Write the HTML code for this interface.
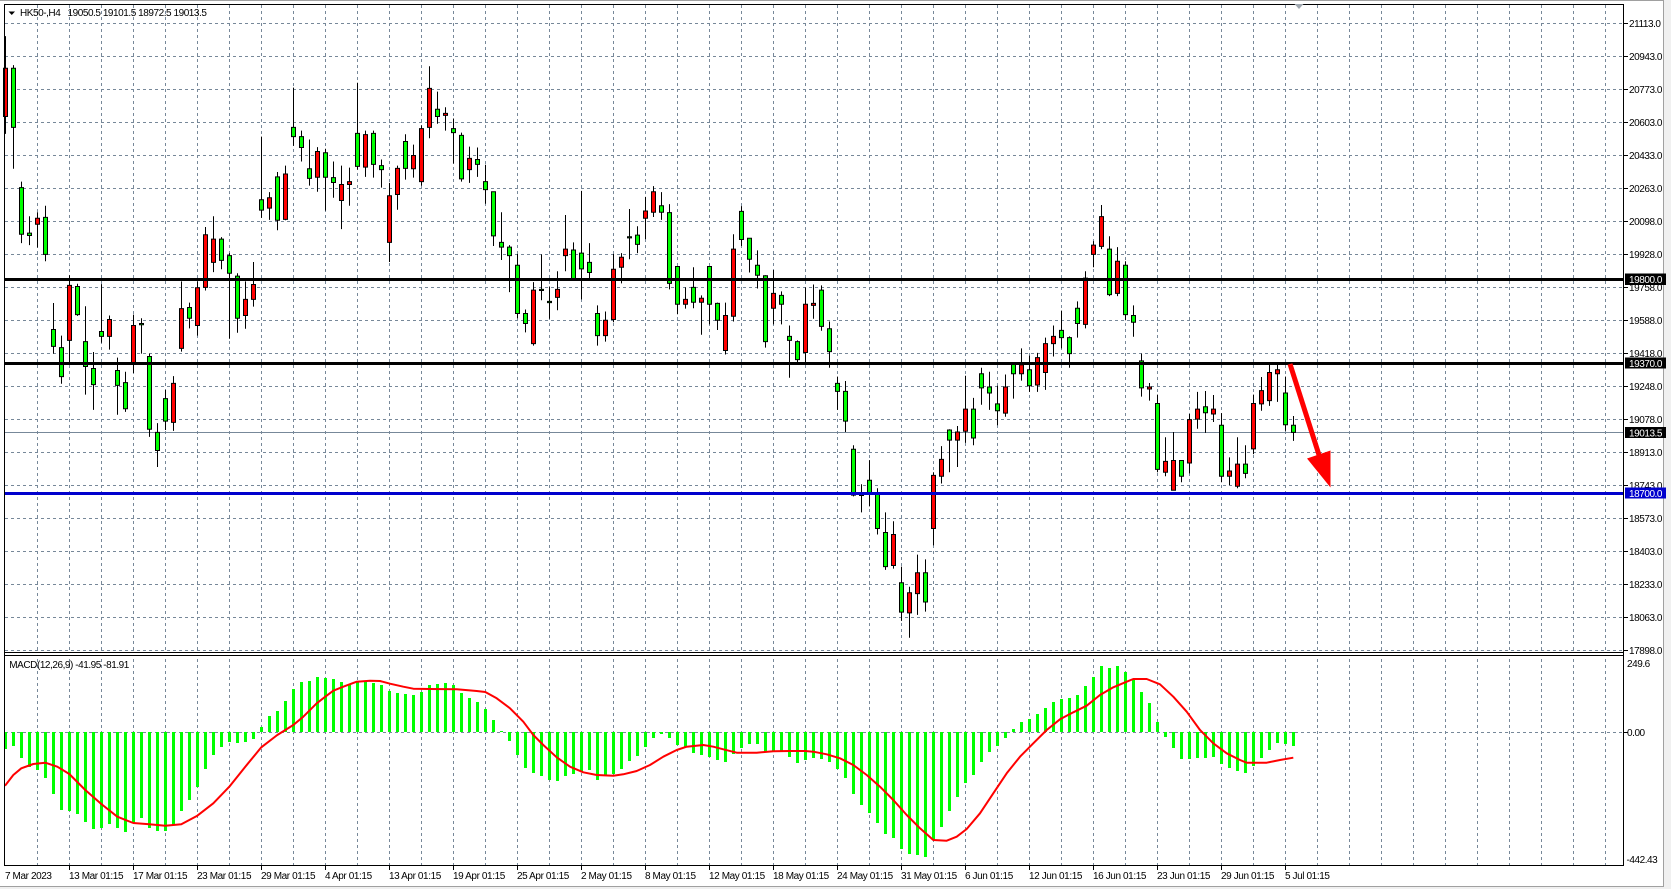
<!DOCTYPE html>
<html><head><meta charset="utf-8"><style>
html,body{margin:0;padding:0;background:#f0f0f0;}
svg{display:block;}
text{font-family:"Liberation Sans",sans-serif;font-size:10px;fill:#000;}
.pl{letter-spacing:-0.45px;}
.dl{letter-spacing:-0.4px;}
text.wt{fill:#fff;}
</style></head><body>
<svg width="1671" height="889" viewBox="0 0 1671 889" xmlns="http://www.w3.org/2000/svg">
<rect x="0" y="0" width="1663" height="886" fill="#fff"/>
<path d="M0 0.5H1663.5V886.5H0" fill="none" stroke="#a0a0a0" stroke-width="1"/>

<!-- grid -->
<g stroke="#778899" stroke-width="1" stroke-dasharray="3 3" fill="none" shape-rendering="crispEdges">
<path d="M37.5 5V865M69.5 5V865M101.5 5V865M133.5 5V865M165.5 5V865M197.5 5V865M229.5 5V865M261.5 5V865M293.5 5V865M325.5 5V865M357.5 5V865M389.5 5V865M421.5 5V865M453.5 5V865M485.5 5V865M517.5 5V865M549.5 5V865M581.5 5V865M613.5 5V865M645.5 5V865M677.5 5V865M709.5 5V865M741.5 5V865M773.5 5V865M805.5 5V865M837.5 5V865M869.5 5V865M901.5 5V865M933.5 5V865M965.5 5V865M997.5 5V865M1029.5 5V865M1061.5 5V865M1093.5 5V865M1125.5 5V865M1157.5 5V865M1189.5 5V865M1221.5 5V865M1253.5 5V865M1285.5 5V865M1317.5 5V865M1349.5 5V865M1381.5 5V865M1413.5 5V865M1445.5 5V865M1477.5 5V865M1509.5 5V865M1541.5 5V865M1573.5 5V865M1605.5 5V865"/>
<path d="M5 23.5H1623M5 56.5H1623M5 89.5H1623M5 122.5H1623M5 155.5H1623M5 188.5H1623M5 221.5H1623M5 254.5H1623M5 287.5H1623M5 320.5H1623M5 353.5H1623M5 386.5H1623M5 419.5H1623M5 452.5H1623M5 485.5H1623M5 518.5H1623M5 551.5H1623M5 584.5H1623M5 617.5H1623M5 650.5H1623M5 732.5H1623"/>
</g>
<rect x="5" y="653" width="1618" height="2" fill="#fff"/>

<path d="M5 432.5H1623" stroke="#778899" stroke-width="1" shape-rendering="crispEdges"/>

<g transform="translate(0,20.08) scale(1,0.4019)">
<path vector-effect="non-scaling-stroke" stroke="#000" stroke-width="1" fill="none" d="M5.5 40V283M13.5 112V370M21.5 402V555M29.5 488V560M37.5 478V566M45.5 462V600M53.5 704V830M61.5 785V905M69.5 635V855M77.5 656V736M85.5 712V932M93.5 826V970M101.5 657V803M109.5 735V820M117.5 840V982M125.5 875V975M133.5 733V878M141.5 742V830M149.5 830V1037M157.5 1003V1112M165.5 920V1020M173.5 886V1022M181.5 650V825M189.5 703V767M197.5 650V785M205.5 515V673M213.5 488V627M221.5 540V620M229.5 580V793M237.5 630V778M245.5 650V768M253.5 602V713M261.5 290V492M269.5 428V497M277.5 378V523M285.5 362V498M293.5 168V313M301.5 275V352M309.5 297V412M317.5 316V427M325.5 320V474M333.5 352V442M341.5 362V520M349.5 367V462M357.5 156V372M365.5 275V390M373.5 275V392M381.5 347V417M389.5 405V602M397.5 362V472M405.5 284V397M413.5 310V392M421.5 262V412M429.5 115V294M437.5 178V258M445.5 217V275M453.5 245V357M461.5 280V402M469.5 315V405M477.5 317V390M485.5 360V457M493.5 427V562M501.5 478V597M509.5 560V677M517.5 582V742M525.5 720V777M533.5 652V810M541.5 583V697M549.5 663V743M557.5 625V722M565.5 485V625M573.5 553V643M581.5 425V695M589.5 555V643M597.5 710V810M605.5 725V800M613.5 582V752M621.5 580V655M629.5 470V595M637.5 513V580M645.5 440V545M653.5 413V490M661.5 428V497M669.5 458V670M677.5 613V732M685.5 665V718M693.5 615V717M701.5 685V783M709.5 613V757M717.5 703V771M725.5 703V832M733.5 533V750M741.5 463V562M749.5 543V628M757.5 573V668M765.5 635V815M773.5 622V757M781.5 675V757M789.5 760V890M797.5 797V852M805.5 665V852M813.5 658V743M821.5 660V773M829.5 750V865M837.5 887V970M845.5 898V1025M853.5 1058V1185M861.5 1155V1225M869.5 1095V1210M877.5 1165V1280M885.5 1225V1368M893.5 1247V1365M901.5 1360V1495M909.5 1410V1537M917.5 1330V1480M925.5 1342V1472M933.5 1125V1307M941.5 1060V1153M949.5 1018V1125M957.5 1010V1112M965.5 885V1052M973.5 940V1058M981.5 865V957M989.5 875V970M997.5 910V1008M1005.5 882V987M1013.5 855V942M1021.5 817V897M1029.5 835V925M1037.5 828V925M1045.5 790V920M1053.5 760V837M1061.5 723V817M1069.5 787V865M1077.5 700V790M1085.5 625V767M1093.5 550V615M1101.5 460V570M1109.5 538V687M1117.5 565V687M1125.5 600V747M1133.5 710V788M1141.5 830V937M1149.5 903V947M1157.5 932V1125M1165.5 1038V1135M1173.5 1025V1170M1181.5 1096V1150M1189.5 980V1128M1197.5 925V1017M1205.5 923V1027M1213.5 933V1000M1221.5 978V1150M1229.5 1088V1157M1237.5 1038V1165M1245.5 1058V1140M1253.5 932V1080M1261.5 888V972M1269.5 858V960M1277.5 857V950M1285.5 887V1022M1293.5 985V1047"/>
<path vector-effect="non-scaling-stroke" stroke="#000" stroke-width="1" fill="#ff0000" d="M3.5 120h4V240h-4zM35.5 493h4V508h-4zM67.5 660h4V797h-4zM107.5 745h4V787h-4zM131.5 760h4V855h-4zM171.5 904h4V1001h-4zM179.5 718h4V817h-4zM195.5 666h4V760h-4zM203.5 534h4V665h-4zM211.5 545h4V603h-4zM243.5 695h4V735h-4zM251.5 658h4V695h-4zM267.5 442h4V468h-4zM283.5 383h4V496h-4zM315.5 327h4V391h-4zM339.5 409h4V449h-4zM347.5 402h4V409h-4zM363.5 285h4V366h-4zM387.5 437h4V553h-4zM395.5 369h4V434h-4zM411.5 337h4V370h-4zM419.5 270h4V402h-4zM427.5 170h4V267h-4zM443.5 232h4V237h-4zM467.5 344h4V372h-4zM531.5 672h4V805h-4zM555.5 670h4V690h-4zM563.5 570h4V586h-4zM603.5 747h4V785h-4zM611.5 620h4V745h-4zM619.5 590h4V615h-4zM643.5 475h4V493h-4zM651.5 427h4V478h-4zM683.5 695h4V707h-4zM699.5 692h4V702h-4zM723.5 735h4V822h-4zM731.5 570h4V737h-4zM771.5 680h4V717h-4zM803.5 707h4V827h-4zM811.5 705h4V710h-4zM891.5 1280h4V1357h-4zM907.5 1425h4V1475h-4zM915.5 1375h4V1427h-4zM931.5 1133h4V1265h-4zM939.5 1093h4V1135h-4zM955.5 1025h4V1045h-4zM963.5 968h4V1023h-4zM1003.5 913h4V978h-4zM1019.5 858h4V880h-4zM1035.5 840h4V908h-4zM1043.5 805h4V877h-4zM1051.5 787h4V805h-4zM1083.5 642h4V757h-4zM1091.5 560h4V583h-4zM1099.5 489h4V563h-4zM1115.5 600h4V680h-4zM1147.5 913h4V918h-4zM1163.5 1098h4V1125h-4zM1171.5 1096h4V1170h-4zM1187.5 994h4V1102h-4zM1195.5 968h4V993h-4zM1211.5 968h4V980h-4zM1227.5 1122h4V1135h-4zM1235.5 1105h4V1160h-4zM1251.5 954h4V1067h-4zM1259.5 922h4V955h-4zM1267.5 877h4V947h-4zM1275.5 870h4V880h-4z"/>
<path vector-effect="non-scaling-stroke" stroke="#000" stroke-width="1" fill="#00ff00" d="M11.5 120h4V267h-4zM19.5 417h4V533h-4zM27.5 530h4V536h-4zM43.5 491h4V583h-4zM51.5 770h4V812h-4zM59.5 815h4V887h-4zM75.5 663h4V733h-4zM83.5 800h4V862h-4zM91.5 867h4V907h-4zM99.5 775h4V787h-4zM115.5 872h4V909h-4zM123.5 902h4V967h-4zM147.5 837h4V1018h-4zM155.5 1026h4V1071h-4zM163.5 942h4V998h-4zM187.5 715h4V742h-4zM219.5 545h4V598h-4zM227.5 586h4V630h-4zM235.5 637h4V742h-4zM259.5 447h4V473h-4zM275.5 390h4V498h-4zM291.5 267h4V290h-4zM299.5 290h4V317h-4zM307.5 370h4V394h-4zM323.5 330h4V391h-4zM331.5 392h4V404h-4zM355.5 282h4V364h-4zM371.5 282h4V359h-4zM379.5 362h4V372h-4zM403.5 302h4V369h-4zM435.5 222h4V240h-4zM451.5 270h4V280h-4zM459.5 287h4V395h-4zM475.5 347h4V359h-4zM483.5 402h4V422h-4zM491.5 427h4V537h-4zM499.5 553h4V565h-4zM507.5 565h4V586h-4zM515.5 610h4V730h-4zM523.5 730h4V755h-4zM571.5 572h4V643h-4zM579.5 580h4V619h-4zM587.5 603h4V628h-4zM595.5 730h4V785h-4zM635.5 535h4V558h-4zM659.5 462h4V478h-4zM667.5 479h4V655h-4zM675.5 613h4V707h-4zM691.5 665h4V702h-4zM707.5 613h4V707h-4zM715.5 705h4V747h-4zM739.5 476h4V546h-4zM747.5 543h4V595h-4zM755.5 610h4V635h-4zM763.5 636h4V800h-4zM779.5 685h4V707h-4zM787.5 787h4V797h-4zM795.5 800h4V845h-4zM819.5 672h4V762h-4zM827.5 768h4V825h-4zM835.5 904h4V924h-4zM843.5 924h4V998h-4zM851.5 1068h4V1182h-4zM867.5 1145h4V1178h-4zM875.5 1178h4V1265h-4zM883.5 1275h4V1360h-4zM899.5 1400h4V1473h-4zM923.5 1375h4V1448h-4zM947.5 1020h4V1045h-4zM971.5 968h4V1040h-4zM979.5 880h4V915h-4zM987.5 913h4V928h-4zM995.5 955h4V972h-4zM1011.5 855h4V880h-4zM1027.5 870h4V910h-4zM1059.5 772h4V790h-4zM1067.5 790h4V830h-4zM1075.5 717h4V755h-4zM1107.5 570h4V683h-4zM1123.5 610h4V733h-4zM1131.5 735h4V752h-4zM1139.5 848h4V915h-4zM1155.5 954h4V1118h-4zM1179.5 1096h4V1135h-4zM1203.5 962h4V977h-4zM1219.5 1008h4V1135h-4zM1243.5 1105h4V1128h-4zM1283.5 928h4V1007h-4zM1291.5 1008h4V1026h-4zM139.5 755h4V758h-4zM539.5 670h4V673h-4zM547.5 700h4V703h-4zM627.5 539h4V542h-4zM859.5 1180h4V1183h-4z"/>
</g>

<path d="M5 279.5H1623M5 363.5H1623" stroke="#000" stroke-width="3"/>
<path d="M5 493.5H1623" stroke="#0000cd" stroke-width="3"/>

<line x1="1290" y1="364" x2="1319" y2="455" stroke="#ff0000" stroke-width="5"/>
<polygon points="1307,458.5 1330.5,450.5 1330.5,487.5" fill="#ff0000"/>

<path stroke="#00ff00" stroke-width="3" fill="none" shape-rendering="crispEdges" d="M5.5 732V749M13.5 732V746M21.5 732V758M29.5 732V767M37.5 732V770M45.5 732V778M53.5 732V794M61.5 732V810M69.5 732V811M77.5 732V814M85.5 732V822M93.5 732V829M101.5 732V828M109.5 732V824M117.5 732V828M125.5 732V832M133.5 732V823M141.5 732V818M149.5 732V828M157.5 732V831M165.5 732V831M173.5 732V825M181.5 732V811M189.5 732V800M197.5 732V787M205.5 732V769M213.5 732V755M221.5 732V747M229.5 732V742M237.5 732V743M245.5 732V742M253.5 732V739M261.5 732V727M269.5 732V716M277.5 732V711M285.5 732V701M293.5 732V689M301.5 732V682M309.5 732V681M317.5 732V677M325.5 732V678M333.5 732V679M341.5 732V682M349.5 732V685M357.5 732V682M365.5 732V682M373.5 732V683M381.5 732V685M389.5 732V691M397.5 732V693M405.5 732V694M413.5 732V695M421.5 732V692M429.5 732V685M437.5 732V684M445.5 732V683M453.5 732V685M461.5 732V693M469.5 732V698M477.5 732V702M485.5 732V709M493.5 732V720M501.5 732V731M509.5 732V741M517.5 732V755M525.5 732V768M533.5 732V773M541.5 732V776M549.5 732V780M557.5 732V781M565.5 732V776M573.5 732V774M581.5 732V772M589.5 732V770M597.5 732V780M605.5 732V776M613.5 732V774M621.5 732V769M629.5 732V761M637.5 732V756M645.5 732V747M653.5 732V738M661.5 732V734M669.5 732V738M677.5 732V745M685.5 732V747M693.5 732V753M701.5 732V755M709.5 732V757M717.5 732V760M725.5 732V762M733.5 732V754M741.5 732V748M749.5 732V744M757.5 732V744M765.5 732V752M773.5 732V752M781.5 732V751M789.5 732V757M797.5 732V763M805.5 732V760M813.5 732V758M821.5 732V759M829.5 732V762M837.5 732V769M845.5 732V778M853.5 732V794M861.5 732V805M869.5 732V813M877.5 732V823M885.5 732V834M893.5 732V838M901.5 732V849M909.5 732V854M917.5 732V855M925.5 732V857M933.5 732V840M941.5 732V827M949.5 732V811M957.5 732V797M965.5 732V783M973.5 732V775M981.5 732V762M989.5 732V752M997.5 732V746M1005.5 732V738M1013.5 732V729M1021.5 732V722M1029.5 732V719M1037.5 732V714M1045.5 732V708M1053.5 732V702M1061.5 732V699M1069.5 732V698M1077.5 732V695M1085.5 732V686M1093.5 732V677M1101.5 732V666M1109.5 732V668M1117.5 732V666M1125.5 732V672M1133.5 732V679M1141.5 732V692M1149.5 732V703M1157.5 732V722M1165.5 732V737M1173.5 732V748M1181.5 732V759M1189.5 732V759M1197.5 732V758M1205.5 732V758M1213.5 732V757M1221.5 732V764M1229.5 732V768M1237.5 732V771M1245.5 732V773M1253.5 732V766M1261.5 732V758M1269.5 732V750M1277.5 732V743M1285.5 732V744M1293.5 732V746"/>
<polyline fill="none" stroke="#ff0000" stroke-width="2" stroke-linejoin="round" points="5,785.7 13.3,775 21.3,768.3 33.3,764 45.3,762.7 57.3,766.7 69.3,774 85.3,790 101.3,804 117.3,816.7 133.3,823 149.3,824.3 165.3,825.7 181.3,824.3 197.3,815.7 213.3,803.3 229.3,786.7 245.3,766.7 261.3,747.3 277.3,735 293.3,725 303.3,716.7 316.7,703.3 325.3,696.7 333.3,690.7 343.3,686.7 356.7,681.7 370,680.7 380,681 390,683.7 403.3,686.7 413.3,688.7 430,689 456.7,689.3 476.7,691 485.3,692 496.7,698.3 510,708.3 523.3,721.7 533.3,735 543.3,745 556.7,757.3 570,766.7 583.3,772.3 596.7,775 613.3,775.7 623.3,774.3 636.7,771 650,765 663.3,756.7 676.7,750 686.7,746.7 703.3,745 713.3,746.7 723.3,749.3 736.7,752.7 756.7,752.7 773.3,751.3 790,751 805,751 813.3,751.7 826.7,754.3 840,758.3 853.3,765 866.7,775 880,786.7 893.3,800 906.7,815 920,828.3 933.3,840 946.7,840.7 956.7,836.7 966.7,829 980,813.3 993.3,793.3 1006.7,773.3 1020,756.7 1033.3,743.3 1046.7,730 1060,719.3 1073.3,712.3 1086.7,705.7 1100,695 1113.3,687.3 1126.7,681.7 1133.3,679 1146.7,679 1160,684.3 1173.3,696.7 1186.7,711.7 1200,730 1213.3,743.3 1226.7,753.3 1240,760 1246.7,762.7 1266.7,762.7 1280,760 1293.3,757.7"/>

<g stroke="#000" stroke-width="1" fill="none" shape-rendering="crispEdges">
<path d="M4.5 4V866M4 4.5H1624M1623.5 4V866M4 652.5H1624M4 655.5H1624M4 865.5H1624"/>
<path d="M1624 23.5h4M1624 56.5h4M1624 89.5h4M1624 122.5h4M1624 155.5h4M1624 188.5h4M1624 221.5h4M1624 254.5h4M1624 287.5h4M1624 320.5h4M1624 353.5h4M1624 386.5h4M1624 419.5h4M1624 452.5h4M1624 485.5h4M1624 518.5h4M1624 551.5h4M1624 584.5h4M1624 617.5h4M1624 650.5h4M1624 732.5h4"/>
<path d="M69.5 866v4M133.5 866v4M197.5 866v4M261.5 866v4M325.5 866v4M389.5 866v4M453.5 866v4M517.5 866v4M581.5 866v4M645.5 866v4M709.5 866v4M773.5 866v4M837.5 866v4M901.5 866v4M965.5 866v4M1029.5 866v4M1093.5 866v4M1157.5 866v4M1221.5 866v4M1285.5 866v4"/>
</g>
<polygon points="1294.5,4 1303.5,4 1299,9" fill="#a0a8b0"/>

<polygon points="8.5,11.5 15,11.5 11.75,15" fill="#000"/>
<text class="pl" x="20" y="16">HK50-,H4</text>
<text class="pl" x="67.5" y="16">19050.5 19101.5 18972.5 19013.5</text>
<text class="pl" x="9.3" y="668">MACD(12,26,9) -41.95 -81.91</text>

<g class="pl">
<text x="1629" y="27.1">21113.0</text>
<text x="1629" y="60.1">20943.0</text>
<text x="1629" y="93.1">20773.0</text>
<text x="1629" y="126.1">20603.0</text>
<text x="1629" y="159.1">20433.0</text>
<text x="1629" y="192.1">20263.0</text>
<text x="1629" y="225.1">20098.0</text>
<text x="1629" y="258.1">19928.0</text>
<text x="1629" y="291.1">19758.0</text>
<text x="1629" y="324.1">19588.0</text>
<text x="1629" y="357.1">19418.0</text>
<text x="1629" y="390.1">19248.0</text>
<text x="1629" y="423.1">19078.0</text>
<text x="1629" y="456.1">18913.0</text>
<text x="1629" y="489.1">18743.0</text>
<text x="1629" y="522.1">18573.0</text>
<text x="1629" y="555.1">18403.0</text>
<text x="1629" y="588.1">18233.0</text>
<text x="1629" y="621.1">18063.0</text>
<text x="1629" y="654.1">17898.0</text>
</g>
<rect x="1625" y="273.5" width="41" height="11.5" fill="#000"/>
<rect x="1625" y="357.5" width="41" height="11" fill="#000"/>
<rect x="1625" y="427" width="41" height="11" fill="#000"/>
<rect x="1625" y="487.5" width="41" height="11" fill="#0000cd"/>
<g class="pl">
<text class="wt" x="1629" y="283">19800.0</text>
<text class="wt" x="1629" y="367">19370.0</text>
<text class="wt" x="1629" y="436.5">19013.5</text>
<text class="wt" x="1629" y="497">18700.0</text>
</g>
<g class="pl">
<text x="1627" y="667">249.6</text>
<text x="1627" y="736.2">0.00</text>
<text x="1626.5" y="863">-442.43</text>
</g>

<g class="dl">
<text x="5" y="879">7 Mar 2023</text>
<text x="69" y="879">13 Mar 01:15</text>
<text x="133" y="879">17 Mar 01:15</text>
<text x="197" y="879">23 Mar 01:15</text>
<text x="261" y="879">29 Mar 01:15</text>
<text x="325" y="879">4 Apr 01:15</text>
<text x="389" y="879">13 Apr 01:15</text>
<text x="453" y="879">19 Apr 01:15</text>
<text x="517" y="879">25 Apr 01:15</text>
<text x="581" y="879">2 May 01:15</text>
<text x="645" y="879">8 May 01:15</text>
<text x="709" y="879">12 May 01:15</text>
<text x="773" y="879">18 May 01:15</text>
<text x="837" y="879">24 May 01:15</text>
<text x="901" y="879">31 May 01:15</text>
<text x="965" y="879">6 Jun 01:15</text>
<text x="1029" y="879">12 Jun 01:15</text>
<text x="1093" y="879">16 Jun 01:15</text>
<text x="1157" y="879">23 Jun 01:15</text>
<text x="1221" y="879">29 Jun 01:15</text>
<text x="1285" y="879">5 Jul 01:15</text>
</g>
</svg>
</body></html>
